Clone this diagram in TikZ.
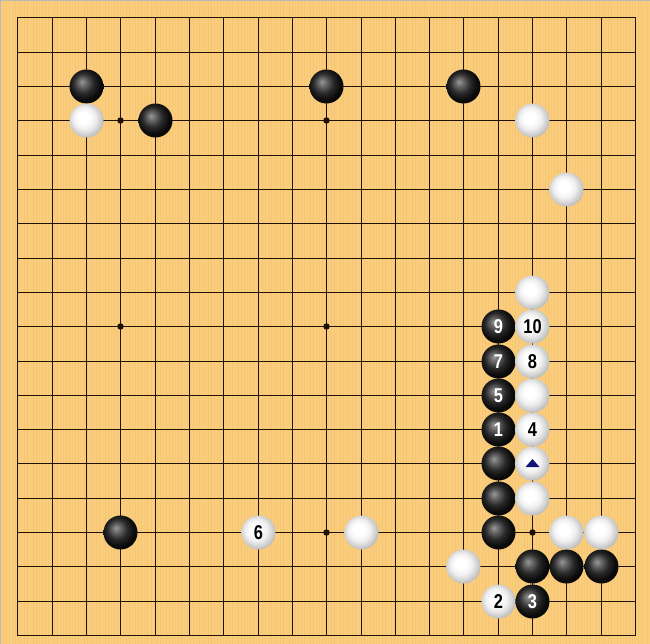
\documentclass[tikz,border=0pt]{standalone}
\usepackage{fontspec}
\setmainfont{Liberation Sans}
\definecolor{board}{RGB}{250,205,125}
\definecolor{grain}{RGB}{238,186,100}
\definecolor{gridc}{RGB}{30,18,6}
\definecolor{marknavy}{RGB}{20,20,120}
\pgfdeclareradialshading{wball}{\pgfpoint{-5bp}{5bp}}{color(0bp)=(white); color(8bp)=(white); color(16bp)=(white!94!black); color(24bp)=(white!80!black); color(30bp)=(white!68!black); color(50bp)=(white!68!black)}
\pgfdeclareradialshading{bball}{\pgfpoint{-7bp}{7bp}}{color(0bp)=(black!40); color(7bp)=(black!62); color(15bp)=(black!84); color(23bp)=(black!95); color(33bp)=(black); color(50bp)=(black)}
\newcommand\narrowlbl[1]{\scalebox{0.82}[1]{#1}}
\tikzset{
  stone/.style={circle, minimum size=34pt, inner sep=0pt, font=\fontsize{20}{20}\selectfont\bfseries},
  bstone/.style={stone, shading=bball, text=white},
  wstone/.style={stone, shading=wball, text=black},
  gridline/.style={draw=gridc, line width=1.45pt},
  star/.style={circle, fill=gridc, minimum size=6.5pt, inner sep=0pt}
}
% grid position (pixel-centred) of line #1
\newcommand\gp[1]{(round(17.3+34.32*#1)+0.5)}
\begin{document}
\begin{tikzpicture}[x=1pt,y=-1pt]
\useasboundingbox (0,0) rectangle (650,644);
\fill[board] (0,0) rectangle (650,644);
\foreach \k in {0,...,215} {
  \pgfmathsetmacro{\xx}{\k*3.01}
  \pgfmathsetmacro{\op}{0.12+0.3*abs(sin(mod(\k*53,360)))}
  \fill[grain, opacity=\op] (\xx,0) rectangle ({\xx+1},644);
}
\draw[gray!55, line width=1pt] (0.5,644) -- (0.5,0.5) -- (650,0.5);
\foreach \i in {0,...,18} {
  \pgfmathsetmacro{\p}{\gp{\i}}
  \draw[gridline] (\p,17.5) -- (\p,635.5);
  \draw[gridline] (17.5,\p) -- (635.5,\p);
}
\draw[gridline, line cap=rect] (17.5,17.5) rectangle (635.5,635.5);
\foreach \a/\b [count=\n] in {3/3,9/3,3/9,9/9,9/15,15/15}
  \node[star] (st\n) at ({\gp{\a}},{\gp{\b}}) {};
% black stones
\foreach \a/\b/\t/\nm in {2/2//b1,9/2//b2,13/2//b3,4/3//b4,3/15//b5,14/9/9/m9,14/10/7/m7,14/11/5/m5,14/12/1/m1,14/13//b6,14/14//b7,14/15//b8,15/16//b9,16/16//b10,17/16//b11,15/17/3/m3}
  \node[bstone] (\nm) at ({\gp{\a}},{\gp{\b}}) {\narrowlbl{\t}};
% white stones
\foreach \a/\b/\t/\nm in {2/3//w1,15/3//w2,16/5//w3,15/8//w4,15/9/10/m10,15/10/8/m8,15/11//w5,15/12/4/m4,15/13//wt,15/14//w6,16/15//w7,17/15//w8,13/16//w9,14/17/2/m2,7/15/6/m6,10/15//w10}
  \node[wstone] (\nm) at ({\gp{\a}},{\gp{\b}}) {\narrowlbl{\t}};
\fill[marknavy] ([shift={(-7pt,-3.5pt)}]wt.center) -- ([shift={(7pt,-3.5pt)}]wt.center) -- ([shift={(0pt,4.5pt)}]wt.center) -- cycle;
\end{tikzpicture}
\end{document}
